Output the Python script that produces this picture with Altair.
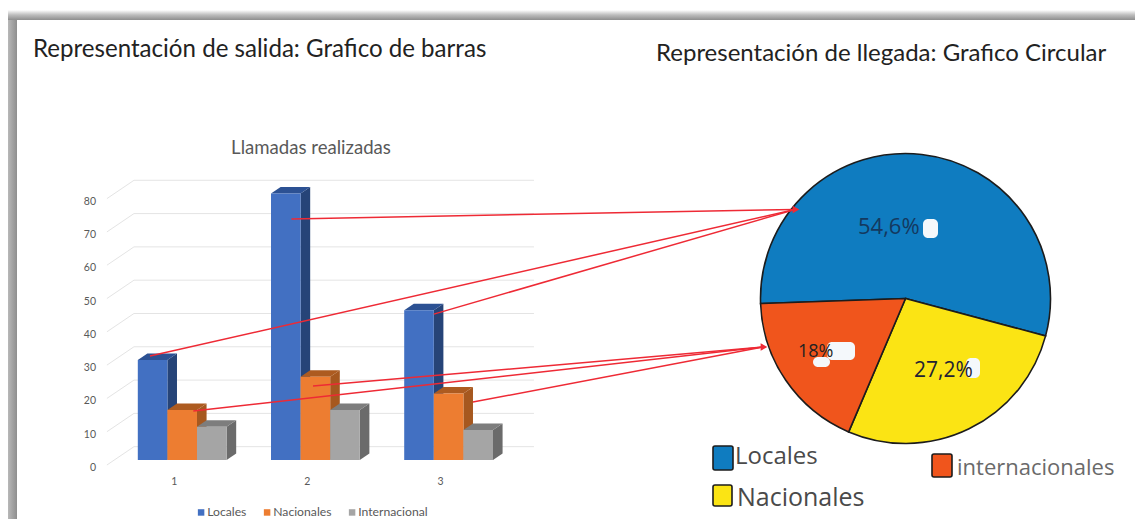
import altair as alt
import pandas as pd

# ---- chart values ----
groups = [1, 2, 3]
series_names = ["Locales", "Nacionales", "Internacional"]
locales = [30, 80, 45]
nacionales = [15, 25, 20]
internacional = [10, 15, 9]
series_values = [locales, nacionales, internacional]
tick_values = [0, 10, 20, 30, 40, 50, 60, 70, 80]

pie_names = ["Locales", "Nacionales", "Internacionales"]
pie_values = [54.6, 27.2, 18.0]
pie_labels = ["54,6%", "27,2%", "18%"]

title_left = "Representación de salida: Grafico de barras"
title_right = "Representación de llegada: Grafico Circular"
title_bars = "Llamadas realizadas"

arrow_group = [2, 1, 3, 1, 2, 3]
arrow_series = [0, 0, 0, 1, 1, 1]
arrow_across = [0.69, 0.41, 1.0, 0.875, 0.42, 1.32]
arrow_height = [72.4, 31.2, 43.8, 14.7, 22.2, 17.4]

# ---- styles ----
W, H = 1127, 511
front = ["#4270c2", "#ed7d31", "#a5a5a5"]
side = ["#264478", "#a6581f", "#6b6b6b"]
top = ["#2c5193", "#ad5b20", "#7d7d7d"]
pie_colors = ["#0f7cc0", "#fbe414", "#f0551c"]
RED = "#ee2a35"
INK = "#595959"
XD = [-0.3078, -0.3078 + 1127 / 133.2]
YD = [-17.72, 135.74]
BW = 0.2222
DX, DY = 0.072, 1.95
one = pd.DataFrame({"n": [1]})


def X(f, axis=None):
    return alt.X(f, type="quantitative", scale=alt.Scale(domain=XD, nice=False, zero=False), axis=axis, title=None)


def Y(f, axis=None):
    return alt.Y(f, type="quantitative", scale=alt.Scale(domain=YD, nice=False, zero=False), axis=axis, title=None, stack=None)


def px(x):
    return alt.value(x - 8)


def py(y):
    return alt.value(y - 8)


def text(s, x, y, size, color, font="Lato", align="left", **kw):
    return alt.Chart(pd.DataFrame({"t": [s]})).mark_text(
        font=font, fontSize=size, color=color, align=align, baseline="middle", **kw
    ).encode(x=px(x), y=py(y), text="t:N")


def box(x0, x1, y0, y1, **kw):
    return alt.Chart(one).mark_rect(**kw).encode(x=px(x0), x2=px(x1), y=py(y0), y2=py(y1))


layers = []

# window shadow
layers.append(box(4, 17, 14, 519, fill={"gradient": "linear", "x1": 0, "x2": 1, "y1": 0, "y2": 0,
                                        "stops": [{"offset": 0, "color": "#ffffff"}, {"offset": 0.35, "color": "#b5b5b5"}, {"offset": 1, "color": "#8e8e8e"}]}))
layers.append(box(4, 1135, 10, 20, fill={"gradient": "linear", "x1": 0, "x2": 0, "y1": 0, "y2": 1,
                                         "stops": [{"offset": 0, "color": "#ffffff"}, {"offset": 0.5, "color": "#bcbcbc"}, {"offset": 1, "color": "#8e8e8e"}]}))

# 3D grid
back_left, back_right, front_left = 0.638, 3.641, 0.435
grid_back = pd.DataFrame({"v": tick_values})
grid_back["a"] = back_left
grid_back["b"] = back_right
grid_back["y"] = grid_back["v"] + 4.0
layers.append(alt.Chart(grid_back).mark_rule(color="#e4e4e4", strokeWidth=1).encode(x=X("a"), x2="b:Q", y=Y("y")))
grid_diag = pd.DataFrame({"v": tick_values})
grid_diag["a"] = front_left
grid_diag["b"] = back_left
grid_diag["y"] = grid_diag["v"] - 1.5
grid_diag["y2"] = grid_diag["v"] + 4.0
layers.append(alt.Chart(grid_diag).mark_rule(color="#e4e4e4", strokeWidth=1).encode(
    x=X("a"), x2="b:Q", y=Y("y"), y2="y2:Q"))

# tick labels, placed through the same scales as the bars
y_ticks = pd.DataFrame({"v": tick_values, "t": [str(v) for v in tick_values], "x": front_left - 0.082})
layers.append(alt.Chart(y_ticks).mark_text(font="Lato", fontSize=10.5, color=INK, align="right", baseline="middle", dy=8).encode(
    x=X("x"), y=Y("v"), text="t:N"))
x_ticks = pd.DataFrame({"g": groups, "t": [str(g) for g in groups], "y": -6.6})
layers.append(alt.Chart(x_ticks).mark_text(font="Lato", fontSize=10.5, color=INK, align="center", baseline="middle", dx=-8).encode(
    x=X("g"), y=Y("y"), text="t:N"))

# 3D bars, from the back of the drawing order to the front
for i, name in enumerate(series_names):
    vals = series_values[i]
    lefts = [g + (i - 1.5) * BW for g in groups]
    side_rows, top_rows = [], []
    for g, l, v in zip(groups, lefts, vals):
        r = l + BW
        side_rows += [dict(g=g, x=r, y=v, y2=0), dict(g=g, x=r + DX, y=v + DY, y2=DY)]
        top_rows += [dict(g=g, x=l, x2=r, y=v), dict(g=g, x=l + DX, x2=r + DX, y=v + DY)]
    layers.append(alt.Chart(pd.DataFrame(side_rows)).mark_area(color=side[i], orient="vertical").encode(
        x=X("x"), y=Y("y"), y2="y2:Q", detail="g:N"))
    layers.append(alt.Chart(pd.DataFrame(top_rows)).mark_area(color=top[i], orient="horizontal").encode(
        x=X("x"), x2="x2:Q", y=Y("y"), detail="g:N"))
    df = pd.DataFrame({"g": groups, "l": lefts, "r": [l + BW for l in lefts], "v": vals, "base": 0, "s": name})
    layers.append(alt.Chart(df).mark_rect().encode(
        x=X("l"), x2="r:Q", y=Y("v"), y2="base:Q",
        fill=alt.Fill("s:N", scale=alt.Scale(domain=series_names, range=front),
                      legend=alt.Legend(orient="none", legendX=187, legendY=498, direction="horizontal", title=None,
                                        symbolType="square", symbolSize=42, symbolStrokeWidth=0, labelColor=INK,
                                        labelFont="Lato", labelFontSize=12.2, columnPadding=14, labelOffset=0)),
    ))

# pie
pie_df = pd.DataFrame({"n": pie_names, "v": pie_values, "o": [0, 1, 2]})
start = -92 * 3.14159265 / 180
layers.append(alt.Chart(pie_df).mark_arc(radius=145, stroke="#1c1c1c", strokeWidth=1.6).encode(
    theta=alt.Theta("v:Q", stack=True, scale=alt.Scale(range=[start, start + 2 * 3.14159265])),
    order=alt.Order("o:Q"),
    color=alt.Color("n:N", scale=alt.Scale(domain=pie_names, range=pie_colors), legend=None),
    x=px(905.5), y=py(298.5),
))

# correction-fluid blots on the hand drawn pie
for (x0, x1, y0, y1) in [(923, 938, 219, 238), (827, 855, 342, 360), (813, 830, 357, 367), (966, 980, 358, 378)]:
    layers.append(box(x0, x1, y0, y1, fill="#f4f8fb", cornerRadius=5))

# pie labels
layers.append(text(pie_labels[0], 858, 227, 22, "#14395f", font="Open Sans"))
layers.append(text(pie_labels[2], 798, 352, 18, "#222222", font="Open Sans"))
layers.append(text(pie_labels[1], 914, 371, 21, "#222233", font="Open Sans"))

# arrows
arrows = pd.DataFrame({
    "x": [g + (s - 1.5 + a) * BW for g, s, a in zip(arrow_group, arrow_series, arrow_across)],
    "y": arrow_height,
    "s": arrow_series,
})
for s, (ex, ey) in zip([0, 1], [(795, 209.5), (763, 347)]):
    layers.append(alt.Chart(arrows[arrows.s == s]).mark_rule(color=RED, strokeWidth=1.5).encode(
        x=X("x"), y=Y("y"), x2=px(ex), y2=py(ey)))
    layers.append(alt.Chart(one).mark_point(shape="triangle-right", filled=True, size=60, color=RED, opacity=1).encode(
        x=px(ex + 1), y=py(ey)))

# pie legend
for (x0, x1, y0, y1), c in zip([(713, 733, 446, 470), (713, 732, 485, 506), (932, 952, 454, 477)], pie_colors):
    layers.append(box(x0, x1, y0, y1, fill=c, stroke="#1c1c1c", strokeWidth=1.6, cornerRadius=2))
layers.append(text("Locales", 735, 457, 24, "#4a4a4a", font="Open Sans"))
layers.append(text("Nacionales", 737, 498, 25, "#4a4a4a", font="Open Sans"))
layers.append(text("internacionales", 957, 468, 22, "#6a6a6a", font="Open Sans"))

# titles
layers.append(text(title_left, 33, 50, 24.1, "#222222"))
layers.append(text(title_right, 656, 54, 24, "#222222"))
layers.append(text(title_bars, 311, 148, 18.6, INK, align="center"))

chart = alt.layer(*layers).properties(
    width=W, height=H, padding=0, autosize="none", background="white"
).configure_view(stroke=None)

chart.save("out.html", embed_options={"renderer": "svg", "actions": False})
